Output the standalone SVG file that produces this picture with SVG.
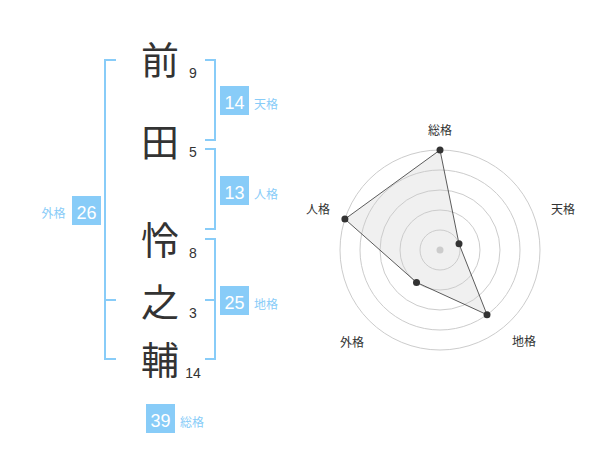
<svg xmlns="http://www.w3.org/2000/svg" width="600" height="470" viewBox="0 0 600 470">
<style>
.kanji{font-family:"Noto Sans CJK JP","Noto Sans CJK SC",sans-serif;font-size:38px;fill:#333;text-anchor:middle}
.stroke{font-family:"Liberation Sans",Arial,sans-serif;font-size:14px;fill:#333;text-anchor:middle}
.box{fill:#88ccf8}
.boxnum{font-family:"Liberation Sans",Arial,sans-serif;font-size:18px;fill:#fff;text-anchor:middle}
.lbl{font-family:"Noto Sans CJK JP",sans-serif;font-size:12px;fill:#88ccf8}
.br{fill:none;stroke:#88ccf8;stroke-width:2}
.ring{fill:none;stroke:#ccc;stroke-width:1}
.axis{font-family:"Noto Sans CJK JP",sans-serif;font-size:12px;fill:#333;text-anchor:middle}
.pt{fill:#333}
</style>
<rect width="600" height="470" fill="#fff"/>
<g id="name">
<text class="kanji" x="160" y="74">前</text>
<text class="kanji" x="160" y="156">田</text>
<text class="kanji" x="160" y="254">怜</text>
<text class="kanji" x="160" y="316">之</text>
<text class="kanji" x="160" y="374">輔</text>
<text class="stroke" x="193" y="78">9</text>
<text class="stroke" x="193" y="157">5</text>
<text class="stroke" x="193" y="258">8</text>
<text class="stroke" x="193" y="318">3</text>
<text class="stroke" x="193" y="378">14</text>
</g>
<g id="connectors">
<path class="br" d="M205,60 H215 V140 H205"/>
<path class="br" d="M205,149 H215 V229 H205"/>
<path class="br" d="M205,239 H215 V359 H205 M205,300 H215"/>
<path class="br" d="M116,60 H105 V359 H116 M105,300 H116"/>
</g>
<g id="tenkaku">
<rect class="box" x="220" y="86" width="29" height="29"/>
<text class="boxnum" x="234.5" y="108.5">14</text>
<text class="lbl" x="254" y="108.5">天格</text>
</g>
<g id="jinkaku">
<rect class="box" x="220" y="176" width="29" height="29"/>
<text class="boxnum" x="234.5" y="198.5">13</text>
<text class="lbl" x="254" y="198.5">人格</text>
</g>
<g id="chikaku">
<rect class="box" x="220" y="286" width="29" height="29"/>
<text class="boxnum" x="234.5" y="308.5">25</text>
<text class="lbl" x="254" y="308.5">地格</text>
</g>
<g id="gaikaku">
<rect class="box" x="72" y="196" width="29" height="29"/>
<text class="boxnum" x="86.5" y="218.5">26</text>
<text class="lbl" x="41.5" y="217.5">外格</text>
</g>
<g id="soukaku">
<rect class="box" x="146" y="404" width="29" height="29"/>
<text class="boxnum" x="160.5" y="426.5">39</text>
<text class="lbl" x="180" y="426.5">総格</text>
</g>
<g id="radar">
<circle class="ring" cx="440" cy="250" r="20"/>
<circle class="ring" cx="440" cy="250" r="40"/>
<circle class="ring" cx="440" cy="250" r="60"/>
<circle class="ring" cx="440" cy="250" r="80"/>
<circle class="ring" cx="440" cy="250" r="100"/>
<circle cx="440" cy="250" r="3.5" fill="#ccc"/>
<polygon points="440,150 459,243.8 487,314.7 416.5,282.4 344.9,219.1" fill="#ccc" fill-opacity="0.3" stroke="#333" stroke-width="0.8"/>
<circle class="pt" cx="440" cy="150" r="3.5"/>
<circle class="pt" cx="459" cy="243.8" r="3.5"/>
<circle class="pt" cx="487" cy="314.7" r="3.5"/>
<circle class="pt" cx="416.5" cy="282.4" r="3.5"/>
<circle class="pt" cx="344.9" cy="219.1" r="3.5"/>
<text class="axis" x="440" y="135">総格</text>
<text class="axis" x="563" y="213.5">天格</text>
<text class="axis" x="524" y="345.5">地格</text>
<text class="axis" x="352" y="346.5">外格</text>
<text class="axis" x="318" y="213.5">人格</text>
</g>
</svg>
